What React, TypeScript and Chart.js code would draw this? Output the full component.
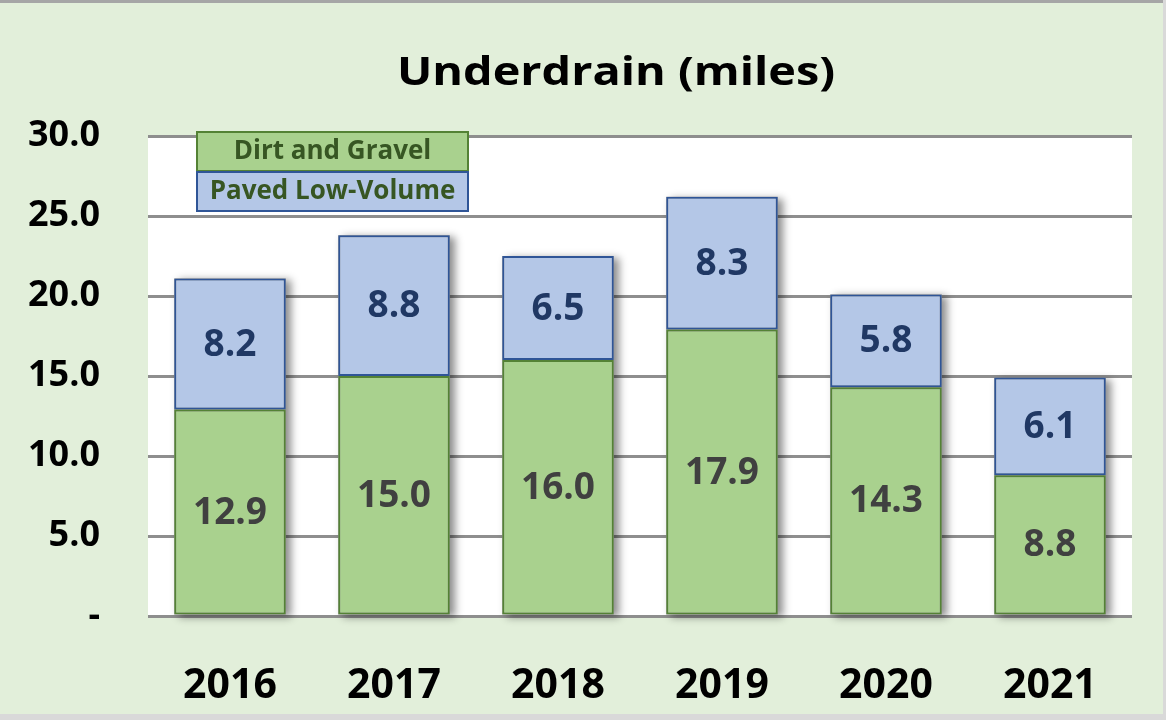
import React, { useEffect, useRef } from "react";
import { Chart, registerables } from "chart.js";

Chart.register(...registerables);

const years = ["2016", "2017", "2018", "2019", "2020", "2021"];
const dirtGravel = [12.9, 15.0, 16.0, 17.9, 14.3, 8.8];
const pavedLowVolume = [8.2, 8.8, 6.5, 8.3, 5.8, 6.1];
const yTicks = [0, 5, 10, 15, 20, 25, 30];
const titleText = "Underdrain (miles)";
const seriesNames = ["Dirt and Gravel", "Paved Low-Volume"];

const FONT = "'Open Sans', Lato, sans-serif";
const BG = "#E2EFDA";
const GREEN = "#A9D18E";
const GREEN_BORDER = "#548235";
const BLUE = "#B4C7E7";
const BLUE_BORDER = "#2F5597";

const decorPlugin = {
  id: "decor",
  beforeDraw(chart: any) {
    const { ctx, chartArea, width, height } = chart;
    ctx.save();
    ctx.fillStyle = BG;
    ctx.fillRect(0, 0, width, height);
    ctx.fillStyle = "#A6A6A6";
    ctx.fillRect(0, 0, width, 3);
    ctx.fillStyle = "#D9D9D9";
    ctx.fillRect(width - 3, 0, 3, height);
    ctx.fillRect(0, height - 6, width, 6);
    ctx.fillStyle = "#FFFFFF";
    ctx.fillRect(chartArea.left, chartArea.top, chartArea.right - chartArea.left, chartArea.bottom - chartArea.top);
    ctx.restore();
  },
  beforeDatasetsDraw(chart: any) {
    const ctx = chart.ctx;
    const top = chart.getDatasetMeta(chart.data.datasets.length - 1);
    const bottom = chart.getDatasetMeta(0);
    ctx.save();
    ctx.shadowColor = "rgba(0,0,0,0.45)";
    ctx.shadowBlur = 8;
    ctx.shadowOffsetX = 5;
    ctx.shadowOffsetY = 2;
    ctx.fillStyle = "#999999";
    top.data.forEach((bar: any, i: number) => {
      const b = bottom.data[i];
      const x0 = bar.x - bar.width / 2;
      ctx.fillRect(x0, bar.y, bar.width, b.base - bar.y);
    });
    ctx.restore();
  },
  afterDatasetsDraw(chart: any) {
    const ctx = chart.ctx;
    ctx.save();
    ctx.textAlign = "center";
    ctx.textBaseline = "middle";
    ctx.font = `bold 37px ${FONT}`;
    chart.data.datasets.forEach((ds: any, di: number) => {
      const meta = chart.getDatasetMeta(di);
      ctx.fillStyle = di === 0 ? "#404040" : "#203864";
      meta.data.forEach((bar: any, i: number) => {
        const v = ds.data[i];
        const y = (bar.y + bar.base) / 2;
        ctx.fillText(v.toFixed(1), bar.x, y + 1);
      });
    });
    ctx.restore();
  },
  afterDraw(chart: any) {
    const ctx = chart.ctx;
    ctx.save();
    ctx.fillStyle = "#000000";
    ctx.font = `bold 39px ${FONT}`;
    ctx.textAlign = "center";
    ctx.textBaseline = "middle";
    ctx.translate(616, 74);
    ctx.scale(1.2, 1);
    ctx.fillText(titleText, 0, 0);
    ctx.restore();

    ctx.save();
    ctx.textAlign = "center";
    ctx.textBaseline = "middle";
    const lx = 197, lw = 271, rh = 40;
    const rows = [
      { y: 132, fill: GREEN, stroke: GREEN_BORDER },
      { y: 172, fill: BLUE, stroke: BLUE_BORDER },
    ];
    ctx.lineWidth = 2;
    rows.forEach((r, i) => {
      ctx.fillStyle = r.fill;
      ctx.fillRect(lx, r.y, lw, rh - 1);
      ctx.strokeStyle = r.stroke;
      ctx.strokeRect(lx, r.y, lw, rh - 1);
      ctx.fillStyle = "#375623";
      ctx.font = `bold 26px ${FONT}`;
      ctx.fillText(seriesNames[i], lx + lw / 2, r.y + rh / 2);
    });
    ctx.restore();
  },
};

export default function App() {
  const ref = useRef<HTMLCanvasElement | null>(null);
  useEffect(() => {
    document.body.style.margin = "0";
    const canvas = ref.current!;
    const chart = new Chart(canvas, {
      type: "bar",
      data: {
        labels: years,
        datasets: [
          {
            label: seriesNames[0],
            data: dirtGravel,
            backgroundColor: GREEN,
            borderColor: GREEN_BORDER,
            borderWidth: 2,
            borderSkipped: false,
            categoryPercentage: 0.68,
            barPercentage: 1,
          },
          {
            label: seriesNames[1],
            data: pavedLowVolume,
            backgroundColor: BLUE,
            borderColor: BLUE_BORDER,
            borderWidth: 2,
            borderSkipped: false,
            categoryPercentage: 0.68,
            barPercentage: 1,
          },
        ],
      },
      plugins: [decorPlugin],
      options: {
        responsive: false,
        animation: false,
        layout: { padding: { top: 136, right: 34, bottom: 0, left: 0 } },
        plugins: {
          legend: { display: false },
          title: { display: false },
          tooltip: { enabled: false },
        },
        scales: {
          x: {
            stacked: true,
            grid: { display: false },
            border: { display: false },
            ticks: {
              color: "#000000",
              font: { family: FONT, size: 41, weight: "bold" },
              padding: 38,
            },
            afterFit(scale: any) {
              scale.height = 104;
            },
          },
          y: {
            stacked: true,
            min: 0,
            max: 30,
            afterBuildTicks(scale: any) {
              scale.ticks = yTicks.map((v) => ({ value: v }));
            },
            grid: {
              color: "#8E8E8E",
              lineWidth: 3,
              drawTicks: false,
            },
            border: { display: false },
            ticks: {
              color: "#000000",
              font: { family: FONT, size: 36, weight: "bold" },
              padding: 48,
              callback: (v: any) => (Number(v) === 0 ? "-" : Number(v).toFixed(1)),
            },
            afterFit(scale: any) {
              scale.width = 148;
            },
          },
        },
      },
    });
    return () => chart.destroy();
  }, []);
  return (
    <div style={{ width: 1166, height: 720 }}>
      <canvas ref={ref} width={1166} height={720} style={{ display: "block" }} />
    </div>
  );
}
